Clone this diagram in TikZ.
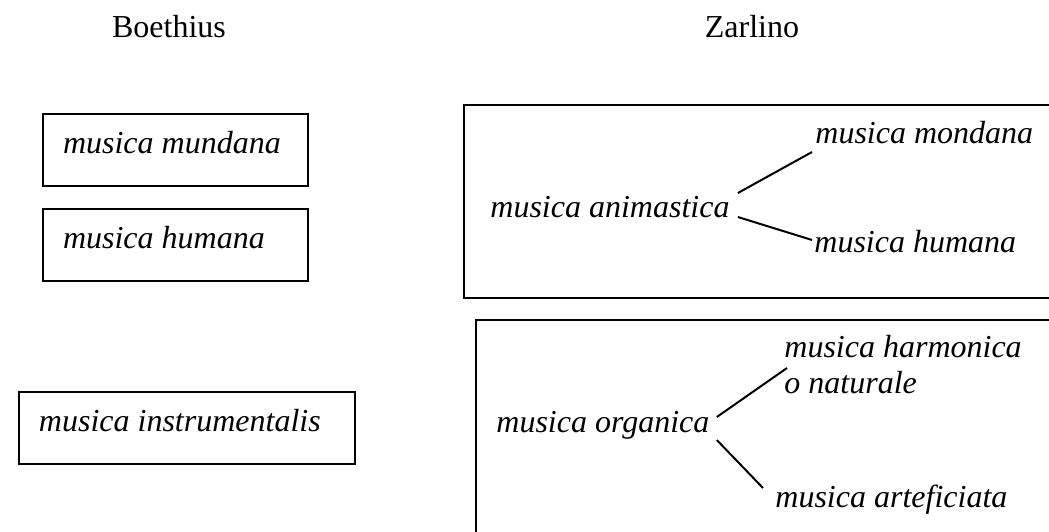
\documentclass[tikz,border=0pt]{standalone}
\usepackage{fontspec}
\setmainfont{Liberation Serif}
\usepackage{tikz}
\usetikzlibrary{positioning}

\begin{document}
\begin{tikzpicture}[x=0.5pt, y=-0.5pt, font=\fontsize{16}{19}\selectfont, head/.style={anchor=base}, boebox/.style={draw, line width=1pt, anchor=north west, inner xsep=10pt, inner ysep=0pt, text height=19.5pt, text depth=16.5pt, align=flush left, font=\fontsize{16}{19}\selectfont\itshape}, zarbox/.style={draw, line width=1pt, anchor=north west, inner sep=0pt}, term/.style={anchor=base west, inner sep=0pt, align=flush left, font=\fontsize{16}{19}\selectfont\itshape}, n/.style={line width=1pt}]
            \useasboundingbox (0,0) rectangle (1049,531);
            % headings
            \node[head] (boeth) at (169,37) {Boethius};
            \node[head] (zarl) at (752,37) {Zarlino};
            % Boethius
            \node[boebox, text width=112.5pt] (mund) at (42,113) {musica mundana};
            \node[boebox, text width=112.5pt] (hum) at (42,208) {musica humana};
            \node[boebox, text width=148pt] (instr) at (18,391) {musica instrumentalis};
            % Zarlino
            \node[zarbox, minimum width=310pt, minimum height=96.5pt] (animbox) at (463,104) {};
            \node[zarbox, minimum width=310pt, minimum height=130pt] (orgbox) at (475,319) {};
            \node[term] (anim) at (490,217) {musica animastica};
            \node[term] (mond) at (815,143) {musica mondana};
            \node[term] (zhum) at (814,252) {musica humana};
            \node[term] (org) at (496,432) {musica organica};
            \node[term] (harm) at (784,393) {musica harmonica\\[-1pt]o naturale};
            \node[term] (artef) at (775,507) {musica arteficiata};
            % edges
            \draw [n] ([xshift=4pt, yshift=12pt]anim.base east) -- ([xshift=-1.5pt, yshift=-4.5pt]mond.base west);
            \draw [n] ([xshift=4pt]anim.base east) -- ([xshift=-1pt, yshift=6pt]zhum.base west);
            \draw [n] ([xshift=3.5pt, yshift=7.5pt]org.base east) -- ([xshift=1.5pt, yshift=12.5pt]harm.base west);
            \draw [n] ([xshift=3.5pt, yshift=-4pt]org.base east) -- ([xshift=-6pt, yshift=9.5pt]artef.base west);
        \end{tikzpicture}
\end{document}
